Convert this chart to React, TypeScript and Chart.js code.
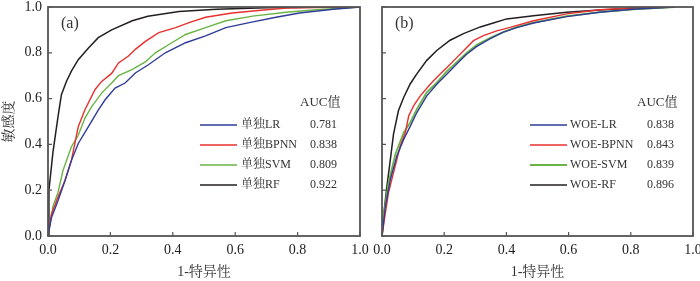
import React, { useEffect, useRef } from 'react';
import { Chart, registerables } from 'chart.js';

Chart.register(...registerables);

const SERIF = "'Liberation Serif', 'Times New Roman', 'Noto Serif CJK SC', 'Noto Sans CJK SC', serif";
const TEXT = '#333333';

// Colours per model
const COLORS = ['#2f3c97', '#e8312f', '#6ab446', '#231f20'];

// Tick values
const AXIS_TICKS = [0, 0.2, 0.4, 0.6, 0.8, 1.0];

// Panel (a)
const A_NAMES = ['单独LR', '单独BPNN', '单独SVM', '单独RF'];
const A_AUC = ['0.781', '0.838', '0.809', '0.922'];

const A_LR_x = [0, 0.011, 0.032, 0.054, 0.075, 0.097, 0.129, 0.161, 0.183, 0.215, 0.247, 0.28, 0.323, 0.376, 0.441, 0.505, 0.57, 0.645, 0.731, 0.806, 0.914, 1.0];
const A_LR_y = [0, 0.08, 0.154, 0.24, 0.33, 0.404, 0.477, 0.55, 0.595, 0.646, 0.668, 0.712, 0.749, 0.8, 0.844, 0.874, 0.91, 0.932, 0.955, 0.974, 0.99, 1.0];

const A_BPNN_x = [0, 0.011, 0.032, 0.054, 0.075, 0.097, 0.118, 0.151, 0.172, 0.204, 0.226, 0.258, 0.28, 0.312, 0.355, 0.409, 0.452, 0.505, 0.59, 0.7, 0.765, 0.9, 1.0];
const A_BPNN_y = [0, 0.095, 0.17, 0.24, 0.33, 0.477, 0.55, 0.64, 0.675, 0.71, 0.756, 0.786, 0.815, 0.85, 0.888, 0.91, 0.932, 0.955, 0.974, 0.988, 0.995, 0.999, 1.0];

const A_SVM_x = [0, 0.016, 0.032, 0.048, 0.075, 0.097, 0.118, 0.14, 0.172, 0.204, 0.226, 0.269, 0.312, 0.344, 0.398, 0.441, 0.505, 0.57, 0.656, 0.763, 0.86, 1.0];
const A_SVM_y = [0, 0.13, 0.19, 0.286, 0.39, 0.44, 0.514, 0.565, 0.624, 0.668, 0.7, 0.727, 0.76, 0.8, 0.845, 0.88, 0.91, 0.94, 0.96, 0.977, 0.988, 1.0];

const A_RF_x = [0, 0.003, 0.016, 0.032, 0.043, 0.059, 0.075, 0.097, 0.129, 0.161, 0.204, 0.27, 0.32, 0.42, 0.54, 0.7, 0.85, 1.0];
const A_RF_y = [0, 0.2, 0.367, 0.52, 0.617, 0.675, 0.72, 0.77, 0.82, 0.866, 0.9, 0.94, 0.96, 0.98, 0.99, 0.997, 0.999, 1.0];

// Panel (b)
const B_NAMES = ['WOE-LR', 'WOE-BPNN', 'WOE-SVM', 'WOE-RF'];
const B_AUC = ['0.838', '0.843', '0.839', '0.896'];

const B_LR_x = [0, 0.011, 0.027, 0.048, 0.07, 0.091, 0.112, 0.144, 0.176, 0.209, 0.241, 0.273, 0.305, 0.348, 0.39, 0.433, 0.487, 0.594, 0.7, 0.807, 0.94];
const B_LR_y = [0, 0.131, 0.248, 0.35, 0.423, 0.48, 0.539, 0.612, 0.663, 0.707, 0.752, 0.795, 0.828, 0.862, 0.89, 0.91, 0.93, 0.958, 0.977, 0.99, 1.0];

const B_BPNN_x = [0, 0.011, 0.021, 0.037, 0.059, 0.075, 0.086, 0.102, 0.123, 0.155, 0.187, 0.209, 0.241, 0.267, 0.294, 0.326, 0.369, 0.412, 0.487, 0.594, 0.7, 0.807, 0.94];
const B_BPNN_y = [0, 0.102, 0.19, 0.277, 0.394, 0.452, 0.525, 0.569, 0.612, 0.663, 0.707, 0.736, 0.78, 0.816, 0.853, 0.875, 0.896, 0.911, 0.94, 0.97, 0.988, 0.996, 1.0];

const B_SVM_x = [0, 0.005, 0.021, 0.043, 0.07, 0.091, 0.112, 0.144, 0.176, 0.209, 0.241, 0.273, 0.305, 0.348, 0.39, 0.433, 0.487, 0.594, 0.7, 0.807, 0.94];
const B_SVM_y = [0, 0.087, 0.233, 0.357, 0.452, 0.496, 0.554, 0.627, 0.67, 0.72, 0.76, 0.8, 0.835, 0.865, 0.89, 0.912, 0.932, 0.96, 0.978, 0.99, 1.0];

const B_RF_x = [0, 0.005, 0.016, 0.027, 0.037, 0.053, 0.07, 0.091, 0.112, 0.144, 0.176, 0.219, 0.262, 0.316, 0.358, 0.401, 0.487, 0.594, 0.7, 0.807, 0.94];
const B_RF_y = [0, 0.087, 0.219, 0.336, 0.445, 0.548, 0.606, 0.665, 0.708, 0.767, 0.81, 0.855, 0.884, 0.913, 0.93, 0.948, 0.962, 0.977, 0.987, 0.994, 1.0];

const zip = (xs: number[], ys: number[]) => xs.map((x, i) => ({ x, y: ys[i] }));

const decoPlugin = {
  id: 'panelDeco',
  afterDraw(chart: any, _args: any, opts: any) {
    const { ctx, chartArea } = chart;
    const { left, right, top, bottom } = chartArea;
    const xs = chart.scales.x;
    const ys = chart.scales.y;
    ctx.save();
    // inward tick marks
    ctx.strokeStyle = '#555555';
    ctx.lineWidth = 1.2;
    ctx.beginPath();
    AXIS_TICKS.forEach((v) => {
      const py = ys.getPixelForValue(v);
      ctx.moveTo(left, py);
      ctx.lineTo(left + 4, py);
      const px = xs.getPixelForValue(v);
      ctx.moveTo(px, bottom);
      ctx.lineTo(px, bottom - 4);
    });
    ctx.stroke();
    // frame
    ctx.lineWidth = 1.8;
    ctx.strokeStyle = '#555555';
    ctx.strokeRect(left, top, right - left, bottom - top);

    // panel label
    ctx.fillStyle = TEXT;
    ctx.textBaseline = 'middle';
    ctx.textAlign = 'left';
    ctx.font = `16px ${SERIF}`;
    ctx.fillText(opts.label, left + 13, top + 17);

    // legend
    const lg = opts.legend;
    ctx.font = `13px ${SERIF}`;
    ctx.fillText('AUC值', left + lg.aucX, top + 96);
    ctx.font = `12px ${SERIF}`;
    lg.names.forEach((name: string, i: number) => {
      const y = top + 118 + i * 20;
      ctx.strokeStyle = COLORS[i];
      ctx.lineWidth = lg.widths[i];
      ctx.beginPath();
      ctx.moveTo(left + lg.lineX0, y);
      ctx.lineTo(left + lg.lineX1, y);
      ctx.stroke();
      ctx.fillStyle = TEXT;
      ctx.fillText(name, left + lg.textX, y);
      ctx.fillText(lg.auc[i], left + lg.valX, y);
    });
    ctx.restore();
  },
};

function makeConfig(
  series: { x: number[]; y: number[] }[],
  widths: number[],
  label: string,
  legend: any,
  showY: boolean,
  yWidth: number,
  padRight: number
): any {
  return {
    type: 'scatter',
    data: {
      datasets: series.map((s, i) => ({
        data: zip(s.x, s.y),
        showLine: true,
        borderColor: COLORS[i],
        backgroundColor: COLORS[i],
        borderWidth: widths[i],
        pointRadius: 0,
        tension: 0,
        fill: false,
      })),
    },
    options: {
      responsive: false,
      animation: false,
      devicePixelRatio: 1,
      layout: { padding: { top: 7, right: padRight, left: 0, bottom: 0 } },
      plugins: {
        legend: { display: false },
        tooltip: { enabled: false },
        panelDeco: { label, legend: { ...legend, widths } },
      },
      scales: {
        x: {
          type: 'linear',
          min: 0,
          max: 1,
          border: { display: false },
          grid: { display: false, drawTicks: false },
          afterBuildTicks: (scale: any) => {
            scale.ticks = AXIS_TICKS.map((v) => ({ value: v }));
          },
          ticks: {
            padding: 6,
            color: '#222222',
            font: { family: SERIF, size: 14 },
            callback: (v: any) => Number(v).toFixed(1),
          },
          title: {
            display: true,
            text: '1-特异性',
            color: TEXT,
            font: { family: SERIF, size: 14 },
            padding: { top: 0, bottom: 0 },
          },
          afterFit: (scale: any) => {
            scale.height = 45;
            scale.paddingLeft = 0;
            scale.paddingRight = 0;
          },
        },
        y: {
          type: 'linear',
          min: 0,
          max: 1,
          border: { display: false },
          grid: { display: false, drawTicks: false },
          afterBuildTicks: (scale: any) => {
            scale.ticks = AXIS_TICKS.map((v) => ({ value: v }));
          },
          ticks: {
            display: showY,
            padding: 6,
            color: '#222222',
            font: { family: SERIF, size: 14 },
            callback: (v: any) => Number(v).toFixed(1),
          },
          title: {
            display: showY,
            text: '敏感度',
            color: TEXT,
            font: { family: SERIF, size: 14 },
            padding: { top: 1, bottom: 0 },
          },
          afterFit: (scale: any) => {
            scale.width = yWidth;
            scale.paddingTop = 0;
            scale.paddingBottom = 0;
          },
        },
      },
    },
    plugins: [decoPlugin],
  };
}

export default function App() {
  const refA = useRef<HTMLCanvasElement>(null);
  const refB = useRef<HTMLCanvasElement>(null);

  useEffect(() => {
    const chartA = new Chart(
      refA.current as HTMLCanvasElement,
      makeConfig(
        [
          { x: A_LR_x, y: A_LR_y },
          { x: A_BPNN_x, y: A_BPNN_y },
          { x: A_SVM_x, y: A_SVM_y },
          { x: A_RF_x, y: A_RF_y },
        ],
        [1.4, 1.4, 1.4, 1.5],
        '(a)',
        { names: A_NAMES, auc: A_AUC, aucX: 252, lineX0: 152, lineX1: 189, textX: 193, valX: 262 },
        true,
        48,
        20
      )
    );
    const chartB = new Chart(
      refB.current as HTMLCanvasElement,
      makeConfig(
        [
          { x: B_LR_x, y: B_LR_y },
          { x: B_BPNN_x, y: B_BPNN_y },
          { x: B_SVM_x, y: B_SVM_y },
          { x: B_RF_x, y: B_RF_y },
        ],
        [1.4, 1.4, 1.8, 1.5],
        '(b)',
        { names: B_NAMES, auc: B_AUC, aucX: 255, lineX0: 148, lineX1: 185, textX: 188, valX: 265 },
        false,
        22,
        7
      )
    );
    return () => {
      chartA.destroy();
      chartB.destroy();
    };
  }, []);

  return (
    <div style={{ position: 'fixed', left: 0, top: 0, width: 700, height: 281, background: '#ffffff', overflow: 'hidden' }}>
      <canvas ref={refA} width={380} height={281} style={{ position: 'absolute', left: 0, top: 0, width: 380, height: 281 }} />
      <canvas ref={refB} width={340} height={281} style={{ position: 'absolute', left: 360, top: 0, width: 340, height: 281 }} />
    </div>
  );
}
